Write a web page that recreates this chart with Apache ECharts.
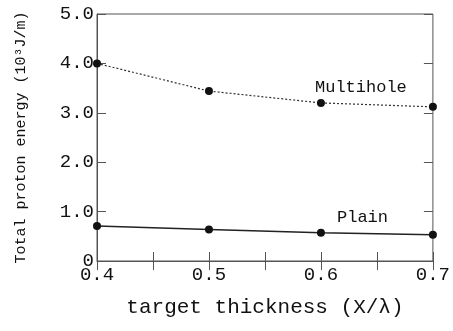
<!DOCTYPE html>
<html><head><meta charset="utf-8">
<script src="https://cdn.jsdelivr.net/npm/echarts@6/dist/echarts.min.js"></script>
<style>html,body{margin:0;padding:0;background:#fff}#c{width:453px;height:331px}</style>
</head><body><div id="c"></div>
<script>
const thickness = [0.4, 0.5, 0.6, 0.7];
const multihole = [4.0, 3.44, 3.20, 3.12];
const plain = [0.71, 0.64, 0.57, 0.53];
const xTickLabels = ['0.4', '0.5', '0.6', '0.7'];
const yTickLabels = ['0', '1.0', '2.0', '3.0', '4.0', '5.0'];

const FONT = 'Liberation Mono';
const axisCol = '#555';
const chart = echarts.init(document.getElementById('c'));
function xLab(v){
  const k = Math.round(v*10);
  if (Math.abs(v*10 - k) > 1e-6) return '';
  const i = thickness.findIndex(t => Math.abs(t - v) < 1e-6);
  return i >= 0 ? xTickLabels[i] : '';
}
function yLab(v){
  const i = Math.round(v);
  return Math.abs(v - i) < 1e-6 ? (yTickLabels[i] || '') : '';
}
const tick = {show:true, inside:true, length:9, lineStyle:{color:axisCol, width:1}};
chart.setOption({
  animation:false,
  grid:{left:97, right:16, top:14, bottom:70, show:true, borderColor:axisCol, borderWidth:1},
  xAxis:[{
    type:'value', min:0.4, max:0.7, interval:0.05,
    axisLine:{show:true, lineStyle:{color:axisCol}}, axisTick:tick, splitLine:{show:false},
    axisLabel:{formatter:xLab, color:'#111', fontFamily:FONT, fontSize:19, margin:4},
    name:'target thickness (X/λ)', nameLocation:'middle', nameGap:36,
    nameTextStyle:{fontFamily:FONT, fontSize:21, color:'#111'}
  },{
    type:'value', min:0.4, max:0.7, interval:0.05, position:'top',
    axisLine:{show:false}, axisTick:tick, axisLabel:{show:false}, splitLine:{show:false}
  }],
  yAxis:[{
    type:'value', min:0, max:5, interval:1,
    axisLine:{show:true, lineStyle:{color:axisCol}}, axisTick:tick, splitLine:{show:false},
    axisLabel:{formatter:yLab, color:'#111', fontFamily:FONT, fontSize:19, margin:3},
    name:'Total proton energy (10³J/m)', nameLocation:'middle', nameGap:68,
    nameTextStyle:{fontFamily:FONT, fontSize:15, color:'#111'}
  },{
    type:'value', min:0, max:5, interval:1, position:'right',
    axisLine:{show:false}, axisTick:tick, axisLabel:{show:false}, splitLine:{show:false}
  }],
  series:[{
    type:'line', data:thickness.map((x,i)=>[x, multihole[i]]),
    symbol:'circle', symbolSize:8, itemStyle:{color:'#111'},
    lineStyle:{color:'#333', width:1.2, type:[2,2]}
  },{
    type:'line', data:thickness.map((x,i)=>[x, plain[i]]),
    symbol:'circle', symbolSize:8, itemStyle:{color:'#111'},
    lineStyle:{color:'#222', width:1.5}
  }],
  graphic:[
    {type:'text', left:315, top:79, style:{text:'Multihole', font:'17px "Liberation Mono"', fill:'#111'}},
    {type:'text', left:337, top:209, style:{text:'Plain', font:'17px "Liberation Mono"', fill:'#111'}}
  ]
});
</script></body></html>
